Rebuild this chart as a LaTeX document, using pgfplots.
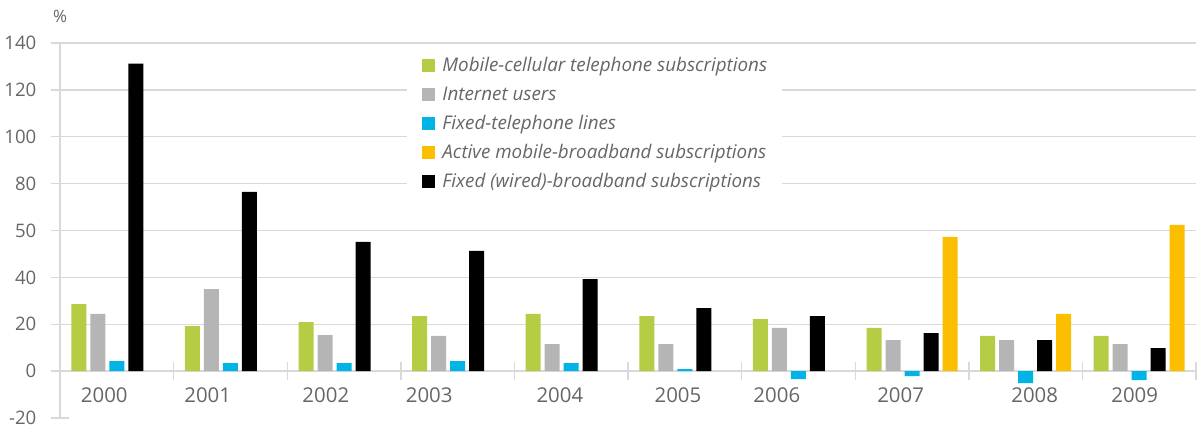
\documentclass[border=0pt]{standalone}
\usepackage{fontspec}
\setmainfont{Open Sans}
\usepackage{pgfplots}
\pgfplotsset{compat=1.18}

\definecolor{cgreen}{HTML}{B5CD45}
\definecolor{cgrey}{HTML}{B5B5B5}
\definecolor{cblue}{HTML}{00B4E6}
\definecolor{cyellow}{HTML}{FCBF00}
\definecolor{cline}{HTML}{D9D9D9}
\definecolor{ctext}{HTML}{666666}

\begin{document}
\begin{tikzpicture}
\begin{axis}[
  scale only axis, width=568pt, height=187.5pt,
  xmin=-0.5, xmax=9.5, ymin=-20, ymax=140,
  ybar, bar width=7.5pt,
  axis x line=middle, axis y line=left,
  axis line style={cline, line width=0.7pt, -},
  tick align=center, major tick length=9pt,
  tick style={cline, line width=0.7pt},
  xtick={-0.5,0.5,...,9.5}, xticklabels={},
  extra x ticks={-0.11,0.80,1.84,2.75,3.90,4.94,5.81,6.90,8.08,8.96},
  extra x tick labels={2000,2001,2002,2003,2004,2005,2006,2007,2008,2009},
  extra x tick style={tick style={draw=none}, tick label style={yshift=-0.5pt}},
  ytick={0,20,...,140},
  yticklabels={0,20,40,50,80,100,120,140},
  extra y ticks={-20}, extra y tick labels={-20},
  extra y tick style={grid=none},
  ymajorgrids=true,
  major grid style={cline, line width=0.7pt},
  xticklabel style={font=\fontsize{10.2}{12}\selectfont, text=ctext},
  yticklabel style={font=\fontsize{9.3}{11}\selectfont, text=ctext, xshift=-3.8pt},
  legend style={at={(rel axis cs:0.3055,0.989)}, anchor=north west,
    draw=none, fill=white, text=ctext,
    font=\fontsize{9.4}{11}\selectfont\itshape,
    inner xsep=7.5pt, inner ysep=5pt,
    nodes={inner sep=0pt, text height=7pt, text depth=2.2pt},
    row sep=5.3pt,
    /tikz/every odd column/.append style={column sep=3.5pt}},
  legend cell align=left,
  every axis plot post/.append style={draw=none,
    legend image code/.code={\fill[##1] (0pt,-2.4pt) rectangle (6.5pt,4.1pt);}},
]
\addplot[fill=cgreen, bar shift=-19pt] coordinates {
  (0,28.6) (1,19.2) (2,20.9) (3,23.5) (4,24.4)
  (5,23.5) (6,22.2) (7,18.4) (8,15.0) (9,15.0)};
\addplot[fill=cgrey, bar shift=-9.5pt] coordinates {
  (0,24.4) (1,35.0) (2,15.4) (3,15.0) (4,11.5)
  (5,11.5) (6,18.4) (7,13.2) (8,13.2) (9,11.5)};
\addplot[fill=cblue, bar shift=0pt] coordinates {
  (0,4.3) (1,3.4) (2,3.4) (3,4.3) (4,3.4)
  (5,0.8) (6,-3.4) (7,-2.1) (8,-5.1) (9,-3.8)};
\addplot[fill=cyellow, bar shift=19pt] coordinates {
  (7,57.3) (8,24.4) (9,62.4)};
\addplot[fill=black, bar shift=9.5pt] coordinates {
  (0,131.2) (1,76.5) (2,55.1) (3,51.3) (4,39.3)
  (5,26.9) (6,23.5) (7,16.2) (8,13.2) (9,9.8)};
\legend{Mobile-cellular telephone subscriptions, Internet users,
  Fixed-telephone lines, Active mobile-broadband subscriptions,
  Fixed (wired)-broadband subscriptions}
\coordinate (o) at (rel axis cs:0,0);
\coordinate (t) at (rel axis cs:1,1);
\coordinate (tl) at (rel axis cs:0,1);
\end{axis}
\node[font=\fontsize{8.5}{10}\selectfont, text=ctext] at ([yshift=13.5pt]tl) {\%};
\pgfresetboundingbox
\path[use as bounding box] ([xshift=-30pt,yshift=-4pt]o) rectangle ([xshift=2.5pt,yshift=21.5pt]t);
\end{tikzpicture}
\end{document}
